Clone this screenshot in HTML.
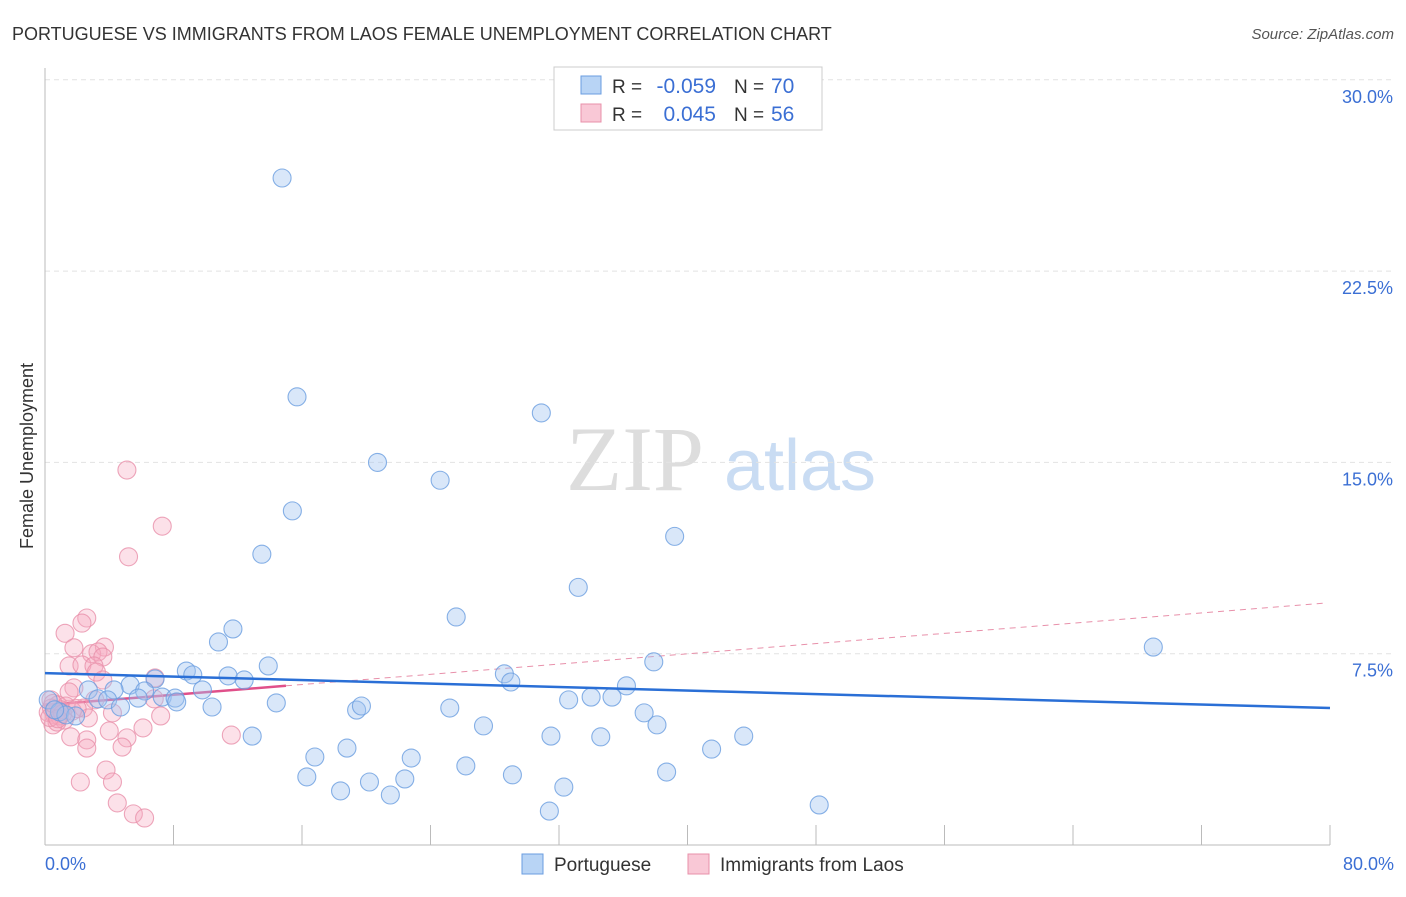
<!DOCTYPE html>
<html><head><meta charset="utf-8"><style>
body{margin:0;background:#fff;font-family:"Liberation Sans",sans-serif;}
</style></head><body>
<svg id="chart" width="1406" height="892" xmlns="http://www.w3.org/2000/svg" style="font-family:'Liberation Sans',sans-serif">
<text x="12" y="40" font-size="18" fill="#333">PORTUGUESE VS IMMIGRANTS FROM LAOS FEMALE UNEMPLOYMENT CORRELATION CHART</text>
<text x="1394" y="39" font-size="15" fill="#555" font-style="italic" text-anchor="end">Source: ZipAtlas.com</text>
<text x="33" y="456" font-size="18" fill="#333" text-anchor="middle" transform="rotate(-90 33 456)">Female Unemployment</text>
<g><text x="635" y="490" font-size="92" fill="#ddd" font-family="Liberation Serif,serif" text-anchor="middle">ZIP</text><text x="800" y="490" font-size="72" fill="#c9dcf3" text-anchor="middle">atlas</text></g>
<g id="grid"></g><g id="axes"></g><g id="trend"></g><g id="pts"></g>
<g>
<rect x="554" y="67" width="268" height="63" fill="#fff" stroke="#ccc"/>
<rect x="581" y="76" width="20" height="18" fill="#b8d4f5" stroke="#6a9de0"/>
<rect x="581" y="104" width="20" height="18" fill="#f9c8d6" stroke="#e890aa"/>
<text x="612" y="93" font-size="19" fill="#333">R =</text>
<text x="716" y="93" font-size="21" fill="#3b6fd4" text-anchor="end">-0.059</text>
<text x="734" y="93" font-size="19" fill="#333">N =</text>
<text x="771" y="93" font-size="21" fill="#3b6fd4">70</text>
<text x="612" y="121" font-size="19" fill="#333">R =</text>
<text x="716" y="121" font-size="21" fill="#3b6fd4" text-anchor="end">0.045</text>
<text x="734" y="121" font-size="19" fill="#333">N =</text>
<text x="771" y="121" font-size="21" fill="#3b6fd4">56</text>
</g>
<g>
<rect x="522" y="854" width="21" height="20" fill="#b8d4f5" stroke="#6a9de0"/>
<text x="554" y="871" font-size="19" fill="#333">Portuguese</text>
<rect x="688" y="854" width="21" height="20" fill="#f9c8d6" stroke="#e890aa"/>
<text x="720" y="871" font-size="19" fill="#333">Immigrants from Laos</text>
</g>
</svg>
<script>
const yTicks=[7.5,15,22.5,30];
const yTickLabels=["7.5%","15.0%","22.5%","30.0%"];
const xTickLabels=["0.0%","80.0%"];
const blueX=[14.76,15.69,30.9,20.7,24.6,15.4,39.2,13.5,33.2,25.6,69.0,11.7,10.8,37.9,13.9,8.8,9.2,11.4,12.4,28.6,29.0,6.85,5.3,9.8,36.2,2.7,4.3,6.2,7.3,8.1,8.2,5.8,3.3,3.9,35.3,34.0,32.6,14.4,10.4,4.7,19.4,19.7,25.2,37.3,0.2,0.9,1.9,1.3,27.3,38.1,12.9,31.5,34.6,43.5,18.8,41.5,16.8,22.8,26.2,38.7,16.3,29.1,22.4,20.2,32.3,18.4,21.5,48.2,31.4,0.6];
const blueY=[26.15,17.57,16.94,15.0,14.3,13.1,12.1,11.4,10.1,8.94,7.76,8.47,7.96,7.18,7.02,6.82,6.67,6.63,6.47,6.71,6.39,6.51,6.27,6.08,6.24,6.08,6.08,6.04,5.8,5.76,5.61,5.76,5.73,5.69,5.8,5.8,5.69,5.57,5.41,5.41,5.29,5.45,5.37,5.18,5.69,5.22,5.06,5.1,4.67,4.71,4.27,4.27,4.24,4.27,3.8,3.76,3.45,3.41,3.1,2.86,2.67,2.75,2.59,2.47,2.27,2.12,1.96,1.57,1.33,5.3];
const pinkX=[5.1,7.3,5.2,2.6,2.3,1.25,3.7,1.8,2.9,3.3,3.6,1.5,2.3,3.05,3.2,3.6,6.85,1.8,1.5,3.1,6.8,0.37,0.8,2.4,4.2,7.2,2.7,0.6,1.2,0.5,4.0,6.1,1.6,11.6,2.6,5.1,4.8,2.6,3.8,2.2,4.2,4.5,5.5,6.2,0.2,0.9,1.3,0.75,0.4,1.0,0.3,1.7,0.5,1.1,2.0,0.8];
const pinkY=[14.7,12.5,11.3,8.9,8.7,8.3,7.76,7.73,7.5,7.57,7.37,7.02,7.06,7.02,6.78,6.47,6.55,6.16,6.0,5.69,5.73,5.69,5.49,5.37,5.18,5.06,4.98,5.1,4.9,4.71,4.47,4.59,4.24,4.31,4.12,4.2,3.84,3.8,2.94,2.47,2.47,1.65,1.22,1.06,5.2,5.06,5.45,4.82,5.37,5.3,5.0,5.25,5.55,5.15,5.35,4.95];
const blueTrend=[6.74,5.37];
const pinkTrend=[5.49,9.5];
const NS="http://www.w3.org/2000/svg";
const sx=v=>45+v/80*1285, sy=v=>845-v/7.5*191.3;
function mk(t,a,p){const e=document.createElementNS(NS,t);for(const k in a)e.setAttribute(k,a[k]);p.appendChild(e);return e;}
const grid=document.getElementById('grid'),axes=document.getElementById('axes'),tr=document.getElementById('trend'),pts=document.getElementById('pts');
yTicks.forEach((t,i)=>{const l=mk('line',{x1:45,x2:1394,y1:sy(t),y2:sy(t),stroke:'#e2e2e2','stroke-dasharray':'5,4'},grid);


const tx=mk('text',{x:1393,y:sy(t)+23,'font-size':18,fill:'#3b6fd4','text-anchor':'end'},axes);tx.textContent=yTickLabels[i];

});
const ax=mk('line',{x1:45,x2:45,y1:68,y2:845,stroke:'#bbb'},axes);


const bx=mk('line',{x1:45,x2:1330,y1:845,y2:845,stroke:'#bbb'},axes);


for(let i=1;i<=10;i++){const t=mk('line',{x1:sx(i*8),x2:sx(i*8),y1:825,y2:845,stroke:'#bbb'},axes);

}
[[0,'start',45],[80,'end',1394]].forEach((d,i)=>{const t=mk('text',{x:d[2],y:870,'font-size':18,fill:'#3b6fd4','text-anchor':d[1]},axes);t.textContent=xTickLabels[i];

});
function dots(X,Y,f,s,name){X.forEach((x,i)=>{const c=mk('circle',{cx:sx(x),cy:sy(Y[i]),r:9,fill:f,stroke:s,'stroke-width':1.1,'stroke-opacity':0.8},pts);

});}
dots(pinkX,pinkY,'rgba(245,170,192,0.35)','#e890aa','laos-point');
dots(blueX,blueY,'rgba(160,196,240,0.4)','#6a9de0','portuguese-point');
const pt=v=>pinkTrend[0]+(pinkTrend[1]-pinkTrend[0])*v/80;
const pd=mk('line',{x1:sx(15),y1:sy(pt(15)),x2:sx(79.7),y2:sy(pt(79.7)),stroke:'#e890aa','stroke-dasharray':'6,5','stroke-width':1},tr);


const ps=mk('line',{x1:sx(0),y1:sy(pt(0)),x2:sx(15),y2:sy(pt(15)),stroke:'#e0508a','stroke-width':2.5},tr);


const bl=mk('line',{x1:sx(0),y1:sy(blueTrend[0]),x2:sx(80),y2:sy(blueTrend[1]),stroke:'#2a6fd6','stroke-width':2.5},pts);


</script>
</body></html>
